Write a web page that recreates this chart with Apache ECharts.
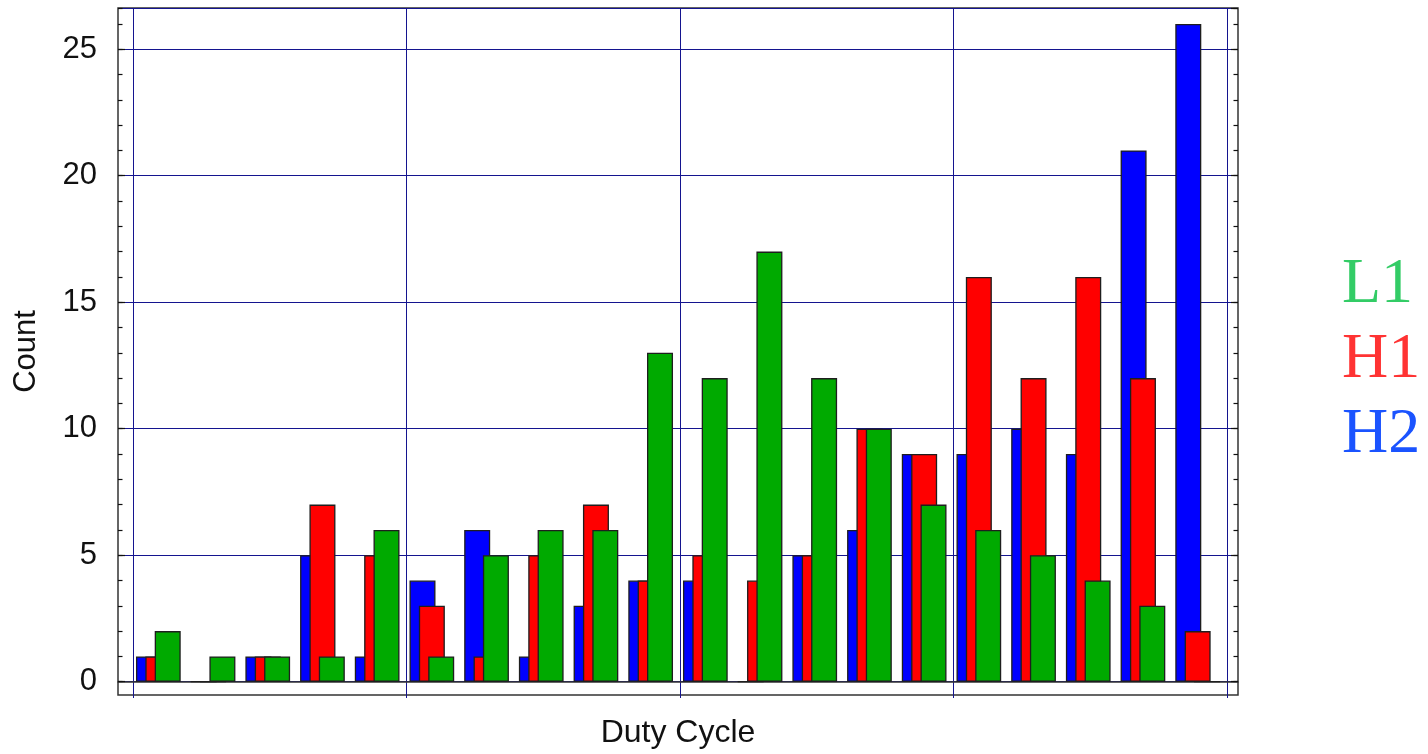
<!DOCTYPE html>
<html>
<head>
<meta charset="utf-8">
<script src="https://cdn.jsdelivr.net/npm/echarts@6/dist/echarts.min.js"></script>
<style>
html, body { margin: 0; padding: 0; background: #fff; }
#chart { width: 1428px; height: 754px; }
</style>
</head>
<body>
<div id="chart"></div>
<script>
// 20 duty cycle bins, no tick labels in the original
var bins = ['1','2','3','4','5','6','7','8','9','10','11','12','13','14','15','16','17','18','19','20'];
var h2 = [1, 0, 1, 5, 1, 4, 6, 1, 3, 4, 4, 0, 5, 6, 9, 9, 10, 9, 21, 26];
var h1 = [1, 0, 1, 7, 5, 3, 1, 5, 7, 4, 5, 4, 5, 10, 9, 16, 12, 16, 12, 2];
var l1 = [2, 1, 1, 1, 6, 1, 5, 6, 6, 13, 12, 17, 12, 10, 7, 6, 5, 4, 3, 0];
var yTicks = [0, 5, 10, 15, 20, 25];

var yMax = 26.63;
var navy = '#14148f';
var frame = '#333';
var sans = 'Liberation Sans, Arial, sans-serif';

var chart = echarts.init(document.getElementById('chart'));

function hiddenAxis(extra) {
  var a = {
    show: false,
    type: 'value',
    axisLine: { show: false },
    axisTick: { show: false },
    axisLabel: { show: false },
    splitLine: { show: false }
  };
  for (var k in extra) a[k] = extra[k];
  return a;
}

// tick-only axes for the plot frame (major every 5, minor every 1)
function tickAxis(pos, step, len, labels) {
  return {
    type: 'value',
    gridIndex: 1,
    position: pos,
    min: 0,
    max: yMax,
    interval: step,
    axisLine: { show: false },
    axisTick: { show: true, inside: true, length: len, lineStyle: { color: '#111', width: 1.2 } },
    axisLabel: {
      show: labels,
      showMaxLabel: false,
      margin: 21,
      color: '#111',
      fontFamily: sans,
      fontSize: 31
    },
    splitLine: { show: false }
  };
}

var barStyle = function (c) {
  return { color: c, borderColor: '#1e1e1e', borderWidth: 1.3 };
};

chart.setOption({
  animation: false,
  backgroundColor: '#fff',
  grid: [
    // 0: outer frame
    { left: 118, right: 190, top: 8, bottom: 56, show: true, borderColor: frame, borderWidth: 1.5 },
    // 1: horizontal lines, y ticks, zero line
    { left: 118, right: 190, top: 8, bottom: 72.3 },
    // 2: vertical lines
    { left: 133, right: 201, top: 8, bottom: 56 },
    // 3: bars
    { left: 131, right: 203, top: 8, bottom: 72.3 }
  ],
  legend: {
    orient: 'vertical',
    left: 1331,
    top: 248,
    itemGap: 11,
    itemWidth: 0,
    itemHeight: 0,
    icon: 'rect',
    selectedMode: false,
    textStyle: { fontFamily: 'Liberation Serif, Times New Roman, serif', fontSize: 64 },
    data: [
      { name: 'L1', textStyle: { color: '#33cc66' } },
      { name: 'H1', textStyle: { color: '#ff3333' } },
      { name: 'H2', textStyle: { color: '#1a53ff' } }
    ]
  },
  xAxis: [
    hiddenAxis({
      gridIndex: 0, show: true, min: 0, max: 1,
      name: 'Duty Cycle', nameLocation: 'middle', nameGap: 22,
      nameTextStyle: { fontFamily: sans, fontSize: 32, color: '#111' }
    }),
    {
      type: 'value', gridIndex: 1, min: 0, max: 1,
      axisLine: { show: true, onZero: false, lineStyle: { color: frame, width: 1.5 } },
      axisTick: { show: false }, axisLabel: { show: false }, splitLine: { show: false }
    },
    {
      type: 'value', gridIndex: 2, min: 0, max: 20, interval: 5,
      axisLine: { show: false }, axisTick: { show: false }, axisLabel: { show: false },
      splitLine: { show: true, lineStyle: { color: navy, width: 1 } }
    },
    {
      type: 'category', gridIndex: 3, data: bins, boundaryGap: true,
      axisLine: { show: false }, axisTick: { show: false }, axisLabel: { show: false }
    }
  ],
  yAxis: [
    hiddenAxis({
      gridIndex: 0, show: true, min: 0, max: 1,
      name: 'Count', nameLocation: 'middle', nameGap: 76, nameRotate: 90,
      nameTextStyle: { fontFamily: sans, fontSize: 31, color: '#111' }
    }),
    (function () {
      var a = tickAxis('left', 5, 7, true);
      a.splitLine = { show: true, lineStyle: { color: navy, width: 1 } };
      a.axisLabel.formatter = function (v) { return yTicks.indexOf(v) >= 0 ? String(v) : ''; };
      return a;
    })(),
    tickAxis('left', 1, 4.5, false),
    tickAxis('right', 5, 7, false),
    tickAxis('right', 1, 4.5, false),
    hiddenAxis({ gridIndex: 2, min: 0, max: 1 }),
    hiddenAxis({ gridIndex: 3, min: 0, max: yMax })
  ],
  series: [
    {
      name: 'H2', type: 'bar', xAxisIndex: 3, yAxisIndex: 6,
      barWidth: 26, barGap: '-64%',
      itemStyle: barStyle('#0000ff'), data: h2
    },
    {
      name: 'H1', type: 'bar', xAxisIndex: 3, yAxisIndex: 6,
      barWidth: 26, barGap: '-64%',
      itemStyle: barStyle('#ff0000'), data: h1
    },
    {
      name: 'L1', type: 'bar', xAxisIndex: 3, yAxisIndex: 6,
      barWidth: 26, barGap: '-64%',
      itemStyle: barStyle('#00aa00'), data: l1
    }
  ]
});
</script>
</body>
</html>
